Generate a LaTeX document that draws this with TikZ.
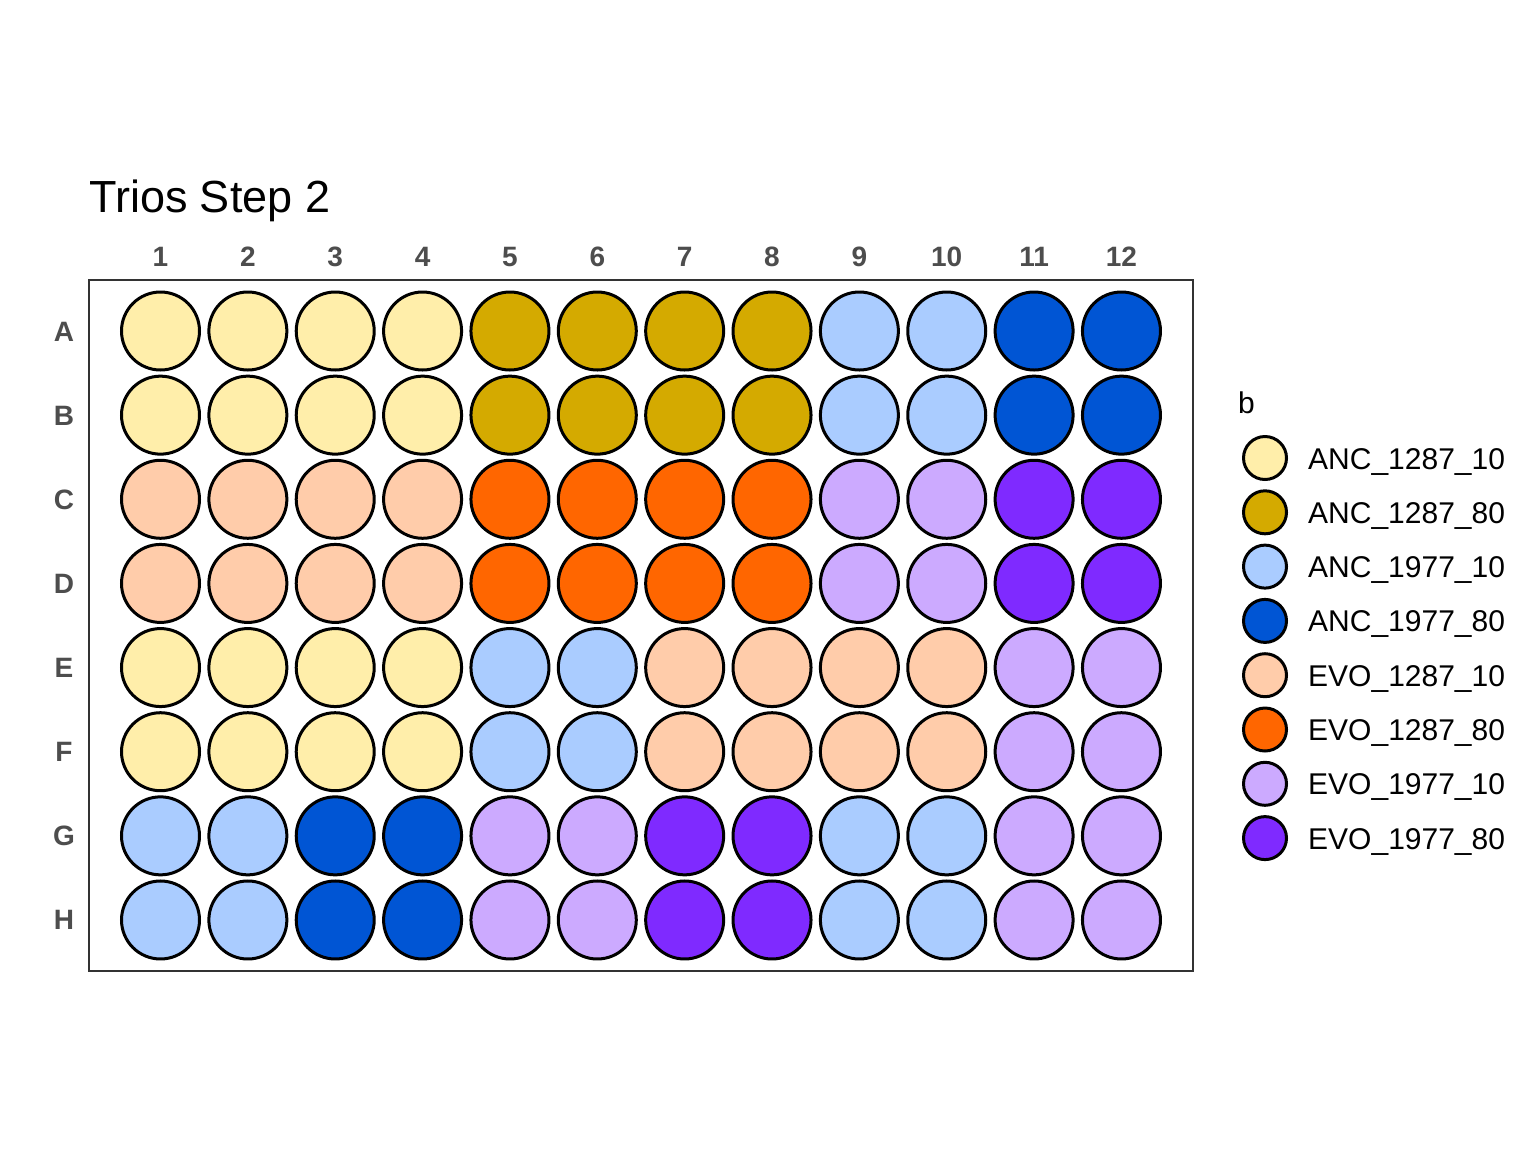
\documentclass[tikz,border=0pt]{standalone}
\usepackage{fontspec}
\setmainfont{Liberation Sans}
\definecolor{ay1}{HTML}{FFEEAA}
\definecolor{ay8}{HTML}{D4AA00}
\definecolor{ab1}{HTML}{AACCFF}
\definecolor{ab8}{HTML}{0055D4}
\definecolor{ey1}{HTML}{FFCCAA}
\definecolor{ey8}{HTML}{FF6600}
\definecolor{eb1}{HTML}{CCAAFF}
\definecolor{eb8}{HTML}{7F2AFF}
\definecolor{axisgray}{HTML}{4D4D4D}
\definecolor{framegray}{HTML}{333333}
\tikzset{
  well/.style={circle, draw=black, line width=3pt, minimum size=78pt, inner sep=0pt},
  legkey/.style={circle, draw=black, line width=3pt, minimum size=43pt, inner sep=0pt},
  axlab/.style={font=\fontsize{28}{32}\selectfont\bfseries, text=axisgray, inner sep=0pt, anchor=base},
  legtext/.style={font=\fontsize{30}{34}\selectfont, text=black, inner sep=0pt, anchor=base west},
  plate/.style={draw=framegray, line width=2pt}
}
\newcommand{\wellrow}[3]{%
  \foreach \c [count=\j] in {#3} {
    \node[well, fill=\c] (w-#1-\j) at ({160.5+(\j-1)*87.36},{331+#2*84.14}) {};
  }
  \node[axlab] (r-#1) at (64,{341+#2*84.14}) {#1};
}
\begin{document}
\begin{tikzpicture}[x=1pt,y=-1pt]
\useasboundingbox[fill=white] (0,0) rectangle (1536,1152);
\node[font=\fontsize{45}{54}\selectfont, inner sep=0pt, anchor=base west] (title) at (89,212) {Trios Step 2};
\foreach \j in {1,...,12} {
  \node[axlab] (c-\j) at ({160.5+(\j-1)*87.36},266) {\j};
}
\draw[plate] (89,280) rectangle (1193,971);
\wellrow{A}{0}{ay1,ay1,ay1,ay1,ay8,ay8,ay8,ay8,ab1,ab1,ab8,ab8}
\wellrow{B}{1}{ay1,ay1,ay1,ay1,ay8,ay8,ay8,ay8,ab1,ab1,ab8,ab8}
\wellrow{C}{2}{ey1,ey1,ey1,ey1,ey8,ey8,ey8,ey8,eb1,eb1,eb8,eb8}
\wellrow{D}{3}{ey1,ey1,ey1,ey1,ey8,ey8,ey8,ey8,eb1,eb1,eb8,eb8}
\wellrow{E}{4}{ay1,ay1,ay1,ay1,ab1,ab1,ey1,ey1,ey1,ey1,eb1,eb1}
\wellrow{F}{5}{ay1,ay1,ay1,ay1,ab1,ab1,ey1,ey1,ey1,ey1,eb1,eb1}
\wellrow{G}{6}{ab1,ab1,ab8,ab8,eb1,eb1,eb8,eb8,ab1,ab1,eb1,eb1}
\wellrow{H}{7}{ab1,ab1,ab8,ab8,eb1,eb1,eb8,eb8,ab1,ab1,eb1,eb1}
% legend
\node[legtext] (legtitle) at (1238,413) {b};
\foreach \c/\t [count=\k from 0] in {ay1/ANC\_1287\_10, ay8/ANC\_1287\_80, ab1/ANC\_1977\_10, ab8/ANC\_1977\_80, ey1/EVO\_1287\_10, ey8/EVO\_1287\_80, eb1/EVO\_1977\_10, eb8/EVO\_1977\_80} {
  \node[legkey, fill=\c] (lk-\k) at (1265,{458+\k*54.3}) {};
  \node[legtext] (lt-\k) at (1308,{469+\k*54.3}) {\t};
}
\end{tikzpicture}
\end{document}
